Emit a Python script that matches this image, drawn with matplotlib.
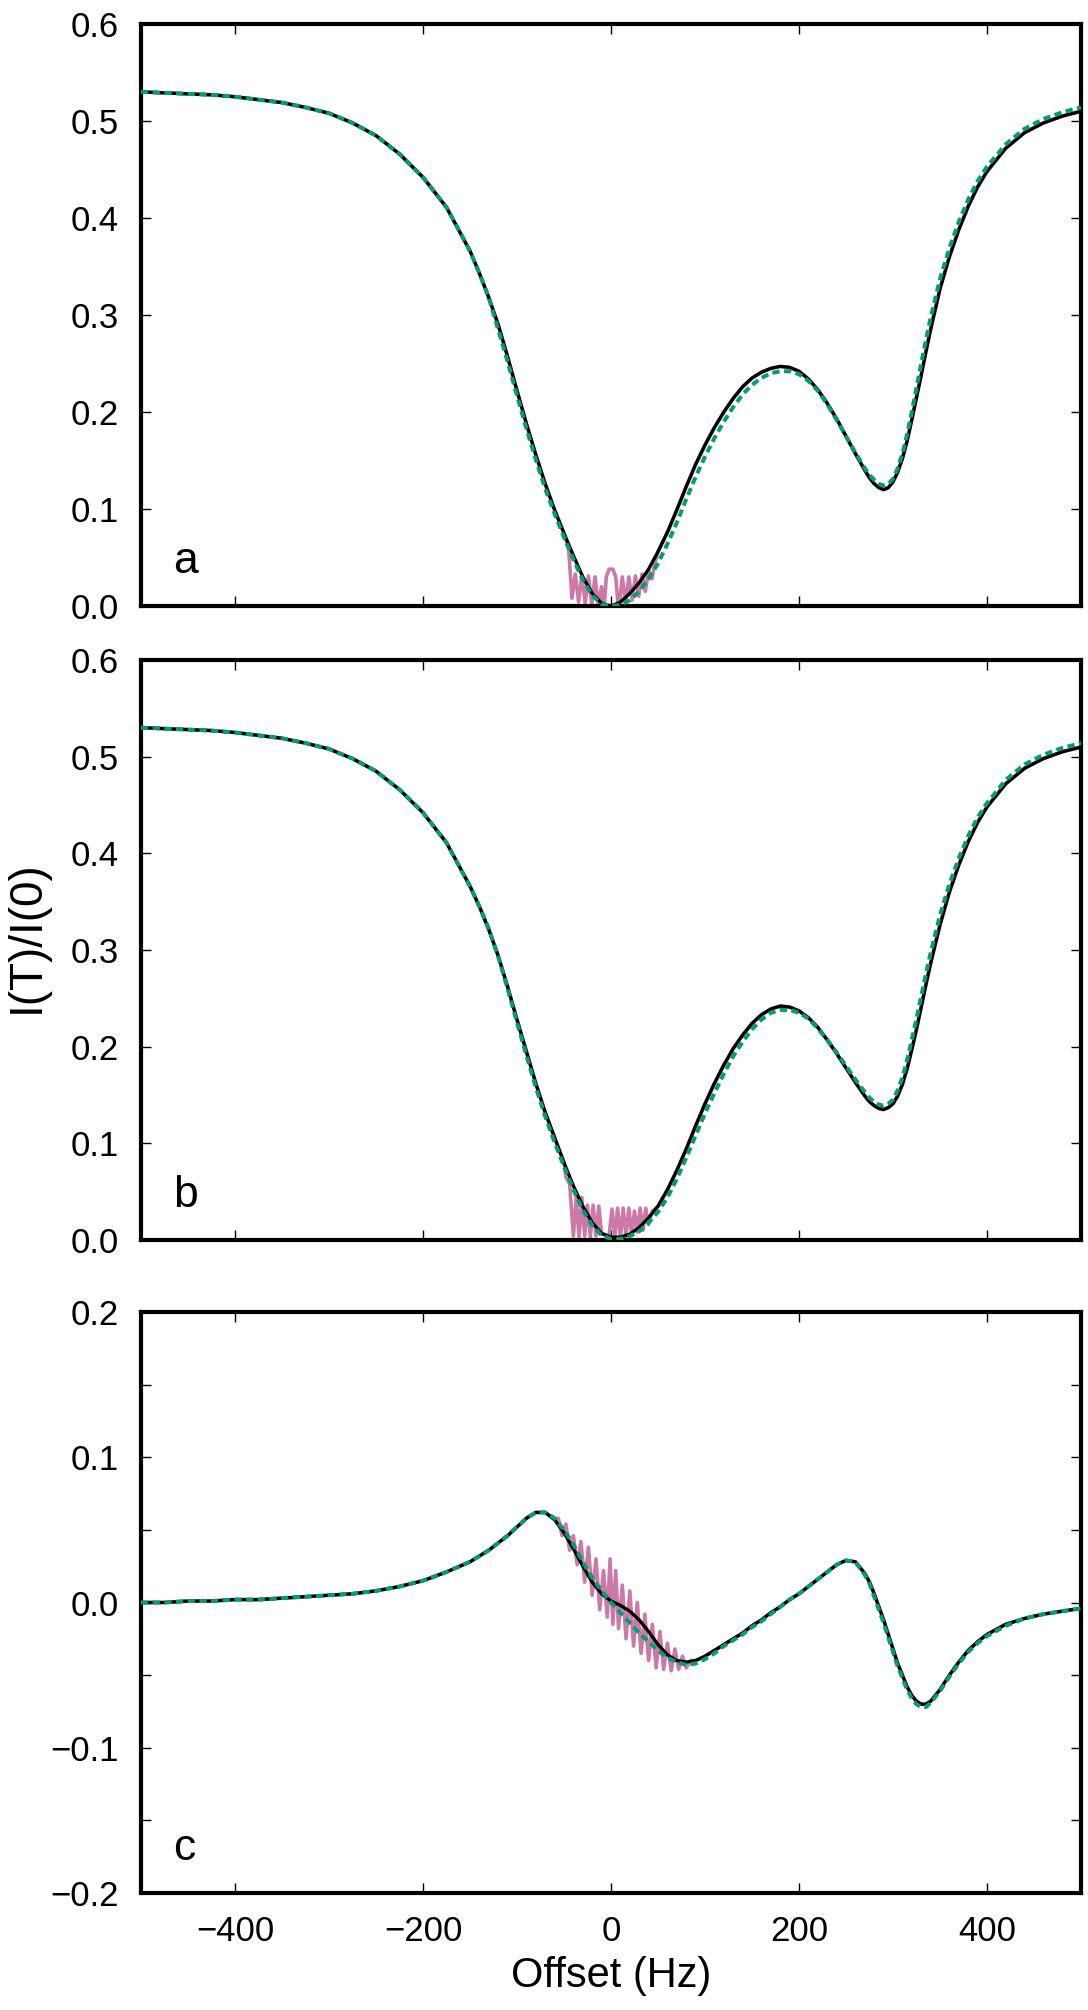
import numpy as np
import matplotlib
matplotlib.use("Agg")
import matplotlib.pyplot as plt
from matplotlib.ticker import MultipleLocator

### DATA ###

# offset grid (Hz), shared by the smooth curves of all panels
offset = [-500, -475, -450, -425, -400, -375, -350, -325, -300, -275, -250, -225, -200, -175, -150,
          -140, -130, -120, -110, -100, -90, -80, -70, -60, -50, -40, -30, -20, -10,
          0, 10, 20, 30, 40, 50, 60, 70, 80, 90, 100, 110, 120, 130, 140, 150, 160,
          170, 180, 190, 200, 210, 220, 230, 240, 250, 260, 270,
          275, 280, 285, 290, 295, 300, 305, 310, 315, 320, 325, 330, 335, 340,
          350, 360, 370, 380, 390, 400,
          420, 440, 460, 480, 500]

# panel a
a_black = [0.530, 0.529, 0.528, 0.527, 0.525, 0.522, 0.519, 0.514, 0.508, 0.498, 0.485, 0.466, 0.442, 0.411, 0.366,
           0.343, 0.318, 0.290, 0.257, 0.222, 0.188, 0.156, 0.126, 0.099, 0.075, 0.052, 0.030, 0.013, 0.003,
           0.000, 0.004, 0.013, 0.024, 0.038, 0.056, 0.076, 0.099, 0.123, 0.146, 0.166, 0.184, 0.200, 0.214,
           0.226, 0.235, 0.241, 0.245, 0.247, 0.246, 0.242, 0.234, 0.223, 0.209, 0.193, 0.175, 0.157, 0.140,
           0.132, 0.126, 0.122, 0.120, 0.122, 0.128, 0.138, 0.152, 0.170, 0.192, 0.215, 0.238, 0.262, 0.285,
           0.327, 0.360, 0.388, 0.412, 0.432, 0.448,
           0.472, 0.488, 0.498, 0.505, 0.510]
a_green = [0.530, 0.529, 0.528, 0.527, 0.525, 0.522, 0.519, 0.514, 0.508, 0.498, 0.485, 0.466, 0.442, 0.411, 0.366,
           0.343, 0.318, 0.285, 0.252, 0.217, 0.183, 0.151, 0.121, 0.095, 0.071, 0.048, 0.027, 0.011, 0.002,
           0.000, 0.001, 0.006, 0.015, 0.028, 0.044, 0.064, 0.086, 0.110, 0.133, 0.154, 0.173, 0.190, 0.205,
           0.218, 0.228, 0.235, 0.240, 0.242, 0.242, 0.239, 0.232, 0.222, 0.208, 0.192, 0.175, 0.158, 0.142,
           0.135, 0.130, 0.126, 0.124, 0.126, 0.131, 0.142, 0.157, 0.177, 0.200, 0.225, 0.250, 0.274, 0.297,
           0.337, 0.369, 0.396, 0.419, 0.438, 0.453,
           0.476, 0.492, 0.502, 0.509, 0.514]
# noisy (measured) trace near resonance; elsewhere it lies on the black curve
a_noise_x = [-48, -45, -41.5, -38, -34.5, -31, -27.5, -24, -20.5, -17, -13.5, -10, -8,
             -7, -5, -2, 2, 5, 7.5, 9, 12, 15.5, 19, 22.5, 26, 29.5, 33, 36.5, 40,
             43.5, 47, 50]
a_noise_y = [0.068, 0.058, 0.008, 0.033, 0.004, 0.032, 0.003, 0.031, 0.002, 0.030, 0.002, 0.020, 0.002,
             0.002, 0.030, 0.038, 0.038, 0.030, 0.002, 0.002, 0.030, 0.003, 0.030, 0.006, 0.031, 0.010,
             0.033, 0.015, 0.037, 0.028, 0.045, 0.056]

# panel b
b_black = [0.530, 0.529, 0.528, 0.527, 0.525, 0.522, 0.519, 0.514, 0.508, 0.498, 0.485, 0.466, 0.442, 0.411, 0.366,
           0.345, 0.321, 0.294, 0.262, 0.228, 0.195, 0.162, 0.132, 0.106, 0.080, 0.056, 0.035, 0.018, 0.007,
           0.003, 0.003, 0.006, 0.013, 0.023, 0.035, 0.052, 0.072, 0.094, 0.118, 0.141, 0.162, 0.181, 0.198,
           0.212, 0.224, 0.233, 0.239, 0.242, 0.241, 0.237, 0.230, 0.220, 0.207, 0.193, 0.178, 0.163, 0.149,
           0.143, 0.139, 0.136, 0.135, 0.137, 0.141, 0.149, 0.161, 0.177, 0.197, 0.218, 0.241, 0.264, 0.286,
           0.326, 0.360, 0.388, 0.412, 0.432, 0.448,
           0.472, 0.488, 0.498, 0.505, 0.510]
b_green = [0.530, 0.529, 0.528, 0.527, 0.525, 0.522, 0.519, 0.514, 0.508, 0.498, 0.485, 0.466, 0.442, 0.411, 0.366,
           0.345, 0.322, 0.293, 0.260, 0.225, 0.191, 0.158, 0.128, 0.101, 0.076, 0.052, 0.031, 0.015, 0.005,
           0.001, 0.001, 0.004, 0.009, 0.018, 0.029, 0.044, 0.063, 0.085, 0.108, 0.131, 0.152, 0.172, 0.190,
           0.205, 0.218, 0.228, 0.235, 0.238, 0.238, 0.235, 0.229, 0.219, 0.207, 0.194, 0.180, 0.166, 0.153,
           0.147, 0.143, 0.140, 0.139, 0.141, 0.145, 0.155, 0.168, 0.186, 0.207, 0.229, 0.252, 0.275, 0.297,
           0.336, 0.368, 0.395, 0.418, 0.437, 0.452,
           0.476, 0.492, 0.502, 0.509, 0.514]
b_noise_x = [-48, -44, -40, -37, -34, -31, -28, -25, -22, -19, -16, -13, -10, -6, -2,
             1, 4, 7, 10, 13, 16, 19, 22, 25, 28, 31, 34, 37, 40, 44, 48]
b_noise_y = [0.065, 0.058, 0.004, 0.045, 0.003, 0.044, 0.004, 0.036, 0.003, 0.036, 0.004, 0.035, 0.006,
             0.005, 0.004, 0.032, 0.003, 0.033, 0.003, 0.033, 0.004, 0.033, 0.005, 0.030, 0.008, 0.033,
             0.010, 0.033, 0.016, 0.030, 0.033]

# panel c
c_black = [0.000, 0.000, 0.001, 0.001, 0.002, 0.002, 0.003, 0.004, 0.005, 0.006, 0.008, 0.011, 0.015, 0.021, 0.028,
           0.032, 0.036, 0.041, 0.046, 0.052, 0.058, 0.062, 0.062, 0.057, 0.048, 0.037, 0.025, 0.014, 0.006,
           0.001, -0.002, -0.006, -0.012, -0.020, -0.029, -0.036, -0.040, -0.041, -0.040, -0.037, -0.033,
           -0.029, -0.025, -0.021, -0.016, -0.012, -0.007, -0.003, 0.002, 0.006, 0.011, 0.016, 0.021, 0.026,
           0.029, 0.028, 0.020,
           0.014, 0.006, -0.003, -0.012, -0.022, -0.032, -0.042, -0.050, -0.058, -0.064, -0.068, -0.070,
           -0.070, -0.068,
           -0.060, -0.050, -0.041, -0.033, -0.027, -0.022,
           -0.015, -0.011, -0.008, -0.006, -0.004]
c_green = [0.000, 0.000, 0.001, 0.001, 0.002, 0.002, 0.003, 0.004, 0.005, 0.006, 0.008, 0.011, 0.015, 0.021, 0.028,
           0.032, 0.036, 0.041, 0.046, 0.052, 0.058, 0.062, 0.062, 0.058, 0.050, 0.040, 0.028, 0.017, 0.008,
           0.000, -0.007, -0.014, -0.021, -0.027, -0.033, -0.038, -0.041, -0.043, -0.042, -0.039, -0.035,
           -0.030, -0.026, -0.022, -0.017, -0.013, -0.008, -0.003, 0.002, 0.006, 0.011, 0.016, 0.021, 0.026,
           0.029, 0.028, 0.019,
           0.013, 0.004, -0.005, -0.014, -0.024, -0.034, -0.044, -0.052, -0.060, -0.066, -0.070, -0.072,
           -0.072, -0.069,
           -0.061, -0.051, -0.042, -0.034, -0.028, -0.023,
           -0.016, -0.011, -0.008, -0.006, -0.004]
c_noise_x = [-60, -56, -52, -48, -44, -40, -36, -32, -28, -24, -20, -16, -12, -8, -4,
             -1, 2, 5, 8, 12, 16, 20, 24, 28, 32, 36, 40, 44, 48, 52, 56, 60, 64, 68,
             72, 76, 80, 85, 90]
c_noise_y = [0.057, 0.058, 0.046, 0.054, 0.036, 0.046, 0.026, 0.042, 0.014, 0.038, 0.005, 0.030, -0.005,
             0.022, -0.010, 0.030, -0.015, 0.022, -0.018, 0.012, -0.025, 0.008, -0.030, 0.000, -0.035,
             -0.008, -0.040, -0.015, -0.045, -0.020, -0.046, -0.028, -0.047, -0.032, -0.046, -0.037,
             -0.045, -0.040, -0.040]

panel_labels = ["a", "b", "c"]
xticks = [-400, -200, 0, 200, 400]

PINK = "#CC79A7"
GREEN = "#009E73"

### PLOTTING ###

plt.rcParams["font.family"] = ["Liberation Sans", "DejaVu Sans"]


def noisy_trace(x, smooth, nx, ny):
    # measured trace = smooth curve outside the noisy window, read points inside
    x = np.asarray(x, float)
    smooth = np.asarray(smooth, float)
    keep = (x < nx[0]) | (x > nx[-1])
    xs = np.concatenate([x[keep], nx])
    ys = np.concatenate([smooth[keep], ny])
    order = np.argsort(xs)
    return xs[order], ys[order]


def minus(fmt):
    return plt.FuncFormatter(lambda v, p: format(v, fmt).replace("-", "\u2212"))


def style_axes(ax, ylim, major, minor=None, show_x=False):
    ax.set_xlim(-500, 500)
    ax.set_ylim(*ylim)
    ax.set_xticks(xticks)
    ax.yaxis.set_major_locator(MultipleLocator(major))
    if minor:
        ax.yaxis.set_minor_locator(MultipleLocator(minor))
    ax.tick_params(which="both", direction="in", top=True, right=True,
                   length=7.5, width=1.0, labelsize=25)
    ax.tick_params(axis="y", pad=16)
    ax.tick_params(axis="x", pad=15.5)
    ax.yaxis.set_major_formatter(minus(".1f"))
    if show_x:
        ax.xaxis.set_major_formatter(minus(".0f"))
    else:
        ax.tick_params(axis="x", labelbottom=False)
    for s in ax.spines.values():
        s.set_linewidth(3.0)


fig = plt.figure(figsize=(10.88, 20.10), dpi=100)
left, width = 141 / 1088, 940 / 1088
ax_a = fig.add_axes([left, 1 - 606 / 2010, width, 582 / 2010])
ax_b = fig.add_axes([left, 1 - 1240 / 2010, width, 580 / 2010])
ax_c = fig.add_axes([left, 1 - 1893 / 2010, width, 581 / 2010])

panels = [
    (ax_a, a_black, a_green, a_noise_x, a_noise_y),
    (ax_b, b_black, b_green, b_noise_x, b_noise_y),
    (ax_c, c_black, c_green, c_noise_x, c_noise_y),
]

for i, (ax, blk, grn, nx, ny) in enumerate(panels):
    assert len(blk) == len(offset) and len(grn) == len(offset)
    px, py = noisy_trace(offset, blk, nx, ny)
    ax.plot(px, py, color=PINK, lw=2.6, zorder=2)
    ax.plot(offset, blk, color="black", lw=2.4, zorder=3)
    ax.plot(offset, grn, color=GREEN, lw=2.9, ls=(0, (1.8, 1.1)), zorder=4)
    ax.text(0.034, 0.057, panel_labels[i], transform=ax.transAxes, fontsize=32,
            ha="left", va="baseline")

style_axes(ax_a, (0.0, 0.6), 0.1)
style_axes(ax_b, (0.0, 0.6), 0.1)
style_axes(ax_c, (-0.2, 0.2), 0.1, minor=0.05, show_x=True)

ax_c.set_xlabel("Offset (Hz)", fontsize=30, labelpad=6)
fig.text(5 / 1088, 1 - 1013 / 2010, "I(T)/I(0)", rotation=90, fontsize=33,
         ha="left", va="bottom")

fig.savefig("out.png", dpi=100)
